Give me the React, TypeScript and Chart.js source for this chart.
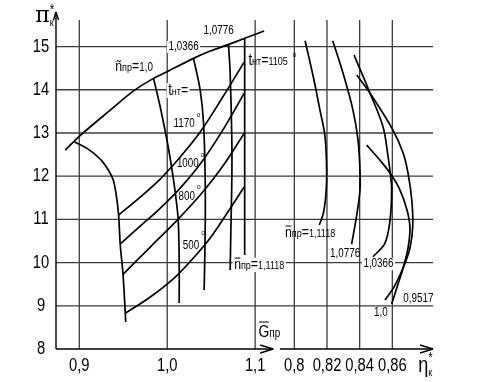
import React, { useEffect, useRef } from "react";
import { Chart, registerables } from "chart.js";

Chart.register(...registerables);

const FONT = "'Liberation Sans', Arial, 'DejaVu Sans', sans-serif";
const SERIF = "'DejaVu Serif', 'Liberation Serif', serif";
const NARROW = 0.82;

// ---- axis ranges (G_пр on the left part, η*к on the right part, π*к vertical)
const G_MIN = 0.8735;
const G_MAX = 1.3023;
const E_MIN = 0.6541;
const E_MAX = 0.8849;
const PI_MIN = 8;
const PI_MAX = 15.615;
const G_AXIS_END = 1.1205;
const E_AXIS_START = 0.7912;

// ---- tick labels
const piTicks = [8, 9, 10, 11, 12, 13, 14, 15];
const gTicks = [0.9, 1.0, 1.1];
const gTickLabels = ["0,9", "1,0", "1,1"];
const etaTicks = [0.8, 0.82, 0.84, 0.86];
const etaTickLabels = ["0,8", "0,82", "0,84", "0,86"];

// ---- left part: π*к versus Ḡпр
const surgeG = [0.8841, 0.9003, 0.9352, 0.9614, 0.9844, 0.9997, 1.0299, 1.0489, 1.0693, 1.0875, 1.1102];
const surgePi = [12.605, 12.929, 13.53, 13.97, 14.264, 14.417, 14.727, 14.896, 15.046, 15.185, 15.359];

const boundG = [0.8943, 0.9088, 0.9239, 0.933, 0.9386, 0.942, 0.9447, 0.9466, 0.9497, 0.9523, 0.9528];
const boundPi = [12.797, 12.644, 12.396, 12.142, 11.91, 11.563, 11.1, 10.406, 9.735, 8.832, 8.624];

const t1170G = [0.9447, 0.9693, 0.992, 1.0148, 1.0375, 1.0625, 1.0875];
const t1170Pi = [11.1, 11.517, 11.934, 12.443, 13.021, 13.808, 14.641];
const t1000G = [0.9474, 0.9693, 0.9898, 1.0148, 1.0375, 1.0625, 1.0875];
const t1000Pi = [10.445, 10.846, 11.216, 11.725, 12.281, 13.044, 13.917];
const t800G = [0.9497, 0.9807, 1.0125, 1.0375, 1.0625, 1.0875];
const t800Pi = [9.728, 10.36, 11.008, 11.563, 12.211, 12.991];
const t500G = [0.9523, 0.9807, 1.0091, 1.0318, 1.0489, 1.0682, 1.0875];
const t500Pi = [8.826, 9.203, 9.666, 10.152, 10.568, 11.147, 11.748];

const n1000G = [0.9844, 0.992, 1.0011, 1.0072, 1.0102, 1.0125, 1.0136, 1.0136];
const n1000Pi = [14.264, 13.607, 12.681, 11.91, 11.448, 10.985, 10.059, 9.064];
const n10366G = [1.0299, 1.0375, 1.0413, 1.0432, 1.0432, 1.042];
const n10366Pi = [14.727, 13.993, 13.23, 11.91, 10.753, 9.365];
const n10776G = [1.0697, 1.0716, 1.0735, 1.0735, 1.0724, 1.0716];
const n10776Pi = [15.046, 14.387, 12.836, 11.91, 10.753, 9.828];
const n11118G = [1.0881, 1.0881];
const n11118Pi = [15.185, 10.175];

// ---- right part: π*к versus η*к
const e11118Eta = [0.8066, 0.8116, 0.8157, 0.8188, 0.8198, 0.8194, 0.8178, 0.8153];
const e11118Pi = [15.134, 14.301, 13.53, 12.913, 12.142, 11.61, 11.147, 10.869];
const e10776Eta = [0.8235, 0.8298, 0.8359, 0.839, 0.8402, 0.8402, 0.8384, 0.8351];
const e10776Pi = [15.134, 14.387, 13.53, 12.836, 12.142, 11.679, 11.147, 10.429];
const e10366Eta = [0.8366, 0.8464, 0.8543, 0.8574, 0.8589, 0.8596, 0.8586, 0.8555, 0.8482];
const e10366Pi = [14.803, 13.917, 13.144, 12.45, 12.026, 11.679, 10.985, 10.452, 10.135];
const e1000Eta = [0.8382, 0.8464, 0.8604, 0.8666, 0.8696, 0.8719, 0.8725, 0.8708, 0.8666, 0.861, 0.8555];
const e1000Pi = [14.34, 13.917, 13.068, 12.535, 12.072, 11.448, 10.846, 10.337, 9.874, 9.434, 9.133];
const e09517Eta = [0.8443, 0.8513, 0.8586, 0.8647, 0.869, 0.8708, 0.8696, 0.8666, 0.8629, 0.8596];
const e09517Pi = [12.72, 12.42, 12.072, 11.679, 11.216, 10.8, 10.337, 9.874, 9.434, 9.041];

type Seg = { t: string; s: number; dx?: number; dy?: number; bar?: number; fixed?: boolean; serif?: boolean };
type Note = { axis: "x" | "xe"; x: number; y: number; segs: Seg[]; bg?: boolean };

const NPR = (val: string, s: number): Seg[] => [
  { t: "n", s: 15, bar: 11 },
  { t: "пр", s: 11 },
  { t: "=", s: 15 },
  { t: val, s },
];

const notes: Note[] = [
  { axis: "x", x: 1.0413, y: 15.301, segs: [{ t: "1,0776", s: 12 }] },
  { axis: "x", x: 1.0015, y: 14.919, segs: [{ t: "1,0366", s: 12 }], bg: true },
  { axis: "x", x: 0.9409, y: 14.433, segs: [{ t: "ñ", s: 15 }, { t: "пр", s: 11 }, { t: "=", s: 15 }, { t: "1,0", s: 12 }] },
  { axis: "x", x: 1.0011, y: 13.878, segs: [{ t: "t", s: 16 }, { t: "нт", s: 11 }, { t: "=", s: 15 }], bg: true },
  { axis: "x", x: 1.0072, y: 13.137, segs: [{ t: "1170", s: 12 }, { t: "o", s: 8, dx: 2, dy: -10 }] },
  { axis: "x", x: 1.011, y: 12.211, segs: [{ t: "1000", s: 12 }, { t: "o", s: 8, dx: 2, dy: -10 }] },
  { axis: "x", x: 1.0128, y: 11.448, segs: [{ t: "800", s: 12 }, { t: "o", s: 8, dx: 2, dy: -11 }] },
  { axis: "x", x: 1.0178, y: 10.314, segs: [{ t: "500", s: 12 }, { t: "o", s: 8, dx: 2, dy: -14 }] },
  { axis: "x", x: 1.0924, y: 14.572, segs: [{ t: "t", s: 16 }, { t: "нт", s: 11 }, { t: "=", s: 15 }, { t: "1105", s: 11 }, { t: "o", s: 8, dx: 5, dy: -8 }] },
  { axis: "x", x: 1.0761, y: 9.851, segs: NPR("1,1118", 11), bg: true },
  { axis: "xe", x: 0.7943, y: 10.591, segs: NPR("1,1118", 11) },
  { axis: "xe", x: 0.8219, y: 10.128, segs: [{ t: "1,0776", s: 12 }] },
  { axis: "xe", x: 0.8423, y: 9.897, segs: [{ t: "1,0366", s: 12 }], bg: true },
  { axis: "xe", x: 0.8667, y: 9.087, segs: [{ t: "0,9517", s: 12 }] },
  { axis: "xe", x: 0.8488, y: 8.763, segs: [{ t: "1,0", s: 12 }] },
  { axis: "x", x: 1.1038, y: 8.277, segs: [{ t: "G", s: 17, bar: 15 }, { t: "пр", s: 12 }] },
  { axis: "x", x: 0.85, y: 15.567, segs: [{ t: "π", s: 22, serif: true }, { t: "*", s: 14, dy: -8, fixed: true }, { t: "к", s: 11, dy: 4 }] },
  { axis: "xe", x: 0.8759, y: 7.467, segs: [{ t: "η", s: 22 }, { t: "*", s: 14, dy: -10, fixed: true }, { t: "к", s: 11, dy: 4 }] },
];

const pts = (xs: number[], ys: number[]) => xs.map((x, i) => ({ x, y: ys[i] }));

const leftCurves = [
  { label: "Граница помпажа", d: pts(surgeG, surgePi) },
  { label: "Граница", d: pts(boundG, boundPi) },
  { label: "tнт=1170°", d: pts(t1170G, t1170Pi) },
  { label: "tнт=1000°", d: pts(t1000G, t1000Pi) },
  { label: "tнт=800°", d: pts(t800G, t800Pi) },
  { label: "tнт=500°", d: pts(t500G, t500Pi) },
  { label: "nпр=1,0", d: pts(n1000G, n1000Pi) },
  { label: "nпр=1,0366", d: pts(n10366G, n10366Pi) },
  { label: "nпр=1,0776", d: pts(n10776G, n10776Pi) },
  { label: "nпр=1,1118", d: pts(n11118G, n11118Pi) },
];
const rightCurves = [
  { label: "η nпр=1,1118", d: pts(e11118Eta, e11118Pi) },
  { label: "η nпр=1,0776", d: pts(e10776Eta, e10776Pi) },
  { label: "η nпр=1,0366", d: pts(e10366Eta, e10366Pi) },
  { label: "η nпр=1,0", d: pts(e1000Eta, e1000Pi) },
  { label: "η nпр=0,9517", d: pts(e09517Eta, e09517Pi) },
];

function line(ctx: CanvasRenderingContext2D, x1: number, y1: number, x2: number, y2: number) {
  ctx.beginPath();
  ctx.moveTo(x1, y1);
  ctx.lineTo(x2, y2);
  ctx.stroke();
}

function fillNarrow(ctx: CanvasRenderingContext2D, t: string, x: number, y: number, k: number, center = false) {
  const w = ctx.measureText(t).width * k;
  const x0 = center ? x - w / 2 : x;
  ctx.save();
  ctx.translate(x0, y);
  ctx.scale(k, 1);
  ctx.textAlign = "left";
  ctx.fillText(t, 0, 0);
  ctx.restore();
  return w;
}

function drawRich(ctx: CanvasRenderingContext2D, x0: number, y0: number, segs: Seg[], bg?: boolean) {
  let cx = x0;
  const parts: { sg: Seg; x: number; w: number; k: number }[] = [];
  for (const sg of segs) {
    ctx.font = `${sg.s}px ${sg.serif ? SERIF : FONT}`;
    const k = sg.serif ? 1 : NARROW;
    const w = ctx.measureText(sg.t).width * k;
    parts.push({ sg, x: cx + (sg.dx || 0), w, k });
    if (!sg.fixed) cx += w + (sg.dx || 0);
  }
  if (bg) {
    const maxS = Math.max(...segs.map((s) => s.s));
    ctx.fillStyle = "#fff";
    ctx.fillRect(x0 - 1.5, y0 - maxS * 0.75, cx - x0 + 3, maxS * 0.75 + 3);
  }
  ctx.fillStyle = "#000";
  ctx.strokeStyle = "#000";
  ctx.lineWidth = 1;
  for (const p of parts) {
    ctx.font = `${p.sg.s}px ${p.sg.serif ? SERIF : FONT}`;
    fillNarrow(ctx, p.sg.t, p.x, y0 + (p.sg.dy || 0), p.k);
    if (p.sg.bar) {
      const by = y0 + (p.sg.dy || 0) - p.sg.bar;
      line(ctx, p.x + 0.5, by, p.x + p.w - 0.5, by);
    }
  }
}

const mapPlugin = {
  id: "compressorMap",
  beforeDatasetsDraw(chart: any) {
    const { ctx, chartArea: ca, scales } = chart;
    const sx = scales.x, se = scales.xe, sy = scales.y;
    ctx.save();
    // grid
    ctx.strokeStyle = "#3c3c3c";
    ctx.lineWidth = 1.3;
    for (const v of piTicks) {
      if (v === PI_MIN) continue;
      const py = sy.getPixelForValue(v);
      line(ctx, ca.left, py, ca.right, py);
    }
    for (const g of gTicks) {
      const px = sx.getPixelForValue(g);
      line(ctx, px, ca.top, px, ca.bottom);
    }
    for (const e of etaTicks) {
      const px = se.getPixelForValue(e);
      line(ctx, px, ca.top, px, ca.bottom);
    }
    // axes
    ctx.strokeStyle = "#000";
    ctx.lineWidth = 1.4;
    const b = ca.bottom;
    const tipY = ca.top - 8;
    line(ctx, ca.left, b, ca.left, tipY);
    line(ctx, ca.left, tipY, ca.left - 2.5, tipY + 8);
    line(ctx, ca.left, tipY, ca.left + 2.5, tipY + 8);
    const gEnd = sx.getPixelForValue(G_AXIS_END);
    line(ctx, ca.left, b, gEnd, b);
    line(ctx, gEnd, b, gEnd - 13, b - 4);
    line(ctx, gEnd, b, gEnd - 13, b + 4);
    const eStart = se.getPixelForValue(E_AXIS_START);
    line(ctx, eStart, b, ca.right, b);
    line(ctx, ca.right, b, ca.right - 13, b - 4);
    line(ctx, ca.right, b, ca.right - 13, b + 4);
    // tick labels
    ctx.fillStyle = "#000";
    ctx.textBaseline = "middle";
    ctx.font = `18px ${FONT}`;
    for (const v of piTicks) {
      fillNarrow(ctx, String(v), ca.left - 15, sy.getPixelForValue(v), NARROW, true);
    }
    ctx.textBaseline = "alphabetic";
    gTicks.forEach((g, i) => fillNarrow(ctx, gTickLabels[i], sx.getPixelForValue(g), b + 22, NARROW, true));
    etaTicks.forEach((e, i) => fillNarrow(ctx, etaTickLabels[i], se.getPixelForValue(e), b + 22, NARROW, true));
    ctx.restore();
  },
  afterDatasetsDraw(chart: any) {
    const { ctx, scales } = chart;
    ctx.save();
    ctx.textBaseline = "alphabetic";
    for (const n of notes) {
      const px = scales[n.axis].getPixelForValue(n.x);
      const py = scales.y.getPixelForValue(n.y);
      drawRich(ctx, px, py, n.segs, n.bg);
    }
    ctx.restore();
  },
};

export default function App() {
  const ref = useRef<HTMLCanvasElement | null>(null);
  useEffect(() => {
    if (!ref.current) return;
    const mk = (c: { label: string; d: { x: number; y: number }[] }, axis: string) => ({
      label: c.label,
      data: c.d,
      xAxisID: axis,
      showLine: true,
      borderColor: "#000",
      borderWidth: 1.7,
      pointRadius: 0,
      tension: 0.35,
      fill: false,
    });
    const chart = new Chart(ref.current, {
      type: "scatter",
      data: {
        datasets: [...leftCurves.map((c) => mk(c, "x")), ...rightCurves.map((c) => mk(c, "xe"))],
      },
      options: {
        responsive: false,
        animation: false,
        layout: { padding: { left: 56, right: 57, top: 20, bottom: 33 } },
        scales: {
          x: { type: "linear", min: G_MIN, max: G_MAX, display: false },
          xe: { type: "linear", axis: "x", min: E_MIN, max: E_MAX, display: false },
          y: { type: "linear", min: PI_MIN, max: PI_MAX, display: false },
        },
        plugins: { legend: { display: false }, tooltip: { enabled: false } },
      },
      plugins: [mapPlugin],
    } as any);
    return () => chart.destroy();
  }, []);
  return (
    <div style={{ position: "absolute", left: 0, top: 0, width: 490, height: 382, background: "#fff" }}>
      <canvas ref={ref} width={490} height={382} style={{ display: "block" }} />
    </div>
  );
}
